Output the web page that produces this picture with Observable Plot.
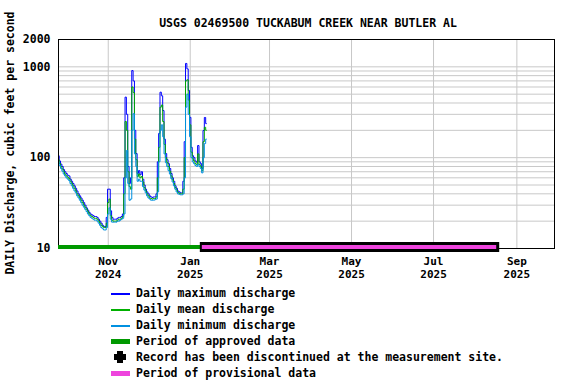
<!DOCTYPE html>
<html><head><meta charset="utf-8">
<script src="https://cdn.jsdelivr.net/npm/d3@7"></script>
<script src="https://cdn.jsdelivr.net/npm/@observablehq/plot@0.6"></script>
<style>
body{margin:0;background:#fff;}
#wrap{position:relative;width:576px;height:384px;font-family:"DejaVu Sans Mono",monospace;font-weight:bold;font-size:11.5px;color:#000;}
#title{position:absolute;top:16px;left:58px;width:500px;text-align:center;white-space:nowrap;}
#ylab{position:absolute;left:10px;top:143px;transform:translate(-50%,-50%) rotate(-90deg);white-space:nowrap;}
#chart{position:absolute;left:0;top:0;}
#legend{position:absolute;left:111px;top:285px;}
.row{position:relative;height:16px;white-space:nowrap;}
.row .sw{position:absolute;left:0;}
.row span{position:absolute;left:25px;top:0;line-height:16px;}
</style></head>
<body>
<div id="wrap">
  <div id="chart"></div>
  <div id="title"></div>
  <div id="ylab"></div>
  <div id="legend"></div>
</div>
<script>
const titleText = "USGS 02469500 TUCKABUM CREEK NEAR BUTLER AL";
const yLabel = "DAILY Discharge, cubic feet per second";
const startDate = "2024-09-25";
const dailyMax = [105,92,85,80,74,70,67,64,63,58,
  55,52,49,46,43,40,38,36,34,32,
  30,28,26.5,25,24,23.5,23,22.5,22.5,22,
  21,20,19,18,17.5,17.5,22,45,45,26,
  22,21,21,21,21.5,22,22,22.5,24,60,
  464,300,80,52,60,910,700,200,111,67,
  72,65,70,58,50,45,42,40,38,37,
  36.5,37,37,40,90,185,526,480,330,160,
  111,95,86,76,67,60,55,49,46,43,
  42,41,41,55,150,1090,950,550,278,130,
  105,100,92,89,136,90,86,76,199,277,
  237];
const dailyMean = [95,86,80,75,70,66,63,61,59,55,
  52,49,46,43,40,38,36,34,32,30,
  28.5,27,25.5,24,23,22.5,22,21.5,21.5,21,
  20,19,18,17.5,17,17,19,32,35,23,
  20.5,20,20,20,20.5,21,21,21.5,22.5,40,
  250,200,70,48,45,600,520,160,95,62,
  66,60,62,54,47,43,40,38,36,35.5,
  35,35.5,35.5,37,60,130,360,380,250,140,
  100,88,80,71,63,57,52,47,44,41.5,
  40.5,40,40,45,100,700,720,430,230,115,
  98,92,86,84,110,84,80,72,150,216,
  200];
const dailyMin = [90,82,76,71,66,63,60,58,56,52,
  49,46,43,41,38,36,34,32,30,28.5,
  27,25.5,24,23,22,21.5,21,20.5,20.5,20,
  19,18,17,16.5,16,16,17,24,28,21,
  19.5,19.5,19.5,19.5,20,20,20.5,21,21.5,24,
  60,120,52,34,35,200,305,110,80,55,
  58,55,55,48,44,41,38,36,35,34,
  34,34,34.5,35,42,90,200,230,170,110,
  88,80,72,66,59,54,49,45,42,40,
  39.5,39,39,40,60,360,500,300,170,100,
  90,86,82,80,85,80,76,68,100,143,
  160];
const seriesNames = ["Daily maximum discharge","Daily mean discharge","Daily minimum discharge"];
const seriesColors = ["#0000ff","#00a800","#0090e0"];
const xDomain = ["2024-09-25","2025-09-29"];
const xTicks = ["2024-11-01","2025-01-01","2025-03-01","2025-05-01","2025-07-01","2025-09-01"];
const yDomain = [10,2000];
const yTicks = [10,100,1000,2000];
const yGrid = [20,30,40,50,60,70,80,90,100,200,300,400,500,600,700,800,900,1000,2000];
const approvedPeriod = ["2024-09-25","2025-01-10"];
const provisionalPeriod = ["2025-01-10","2025-08-17"];
const approvedColor = "#009900";
const provisionalColor = "#ee44dd";
const legendItems = [
  {label:"Daily maximum discharge", kind:"line", color:"#0000ff"},
  {label:"Daily mean discharge", kind:"line", color:"#00b000"},
  {label:"Daily minimum discharge", kind:"line", color:"#0090e0"},
  {label:"Period of approved data", kind:"bar", color:"#009900"},
  {label:"Record has been discontinued at the measurement site.", kind:"cross", color:"#000000"},
  {label:"Period of provisional data", kind:"bar", color:"#ee44dd"}
];

const parse = s => new Date(s + "T00:00:00Z");
const seriesValues = [dailyMax, dailyMean, dailyMin];
const rows = seriesValues.flatMap((vals, k) => vals.map((v, i) => ({
  date: d3.utcDay.offset(parse(startDate), i), value: v, series: seriesNames[k]
})));
const approved = [{y: yDomain[0], x1: parse(approvedPeriod[0]), x2: parse(approvedPeriod[1])}];
const provisional = [{y: yDomain[0], x1: parse(provisionalPeriod[0]), x2: parse(provisionalPeriod[1])}];

const chart = Plot.plot({
  width: 576, height: 284,
  marginLeft: 58, marginRight: 22, marginTop: 39, marginBottom: 36,
  style: {fontFamily: "DejaVu Sans Mono, monospace", fontWeight: "bold", fontSize: "11.5px", color: "#000", background: "transparent"},
  x: {type: "utc", domain: xDomain.map(parse)},
  y: {type: "log", domain: yDomain},
  color: {domain: seriesNames, range: seriesColors},
  marks: [
    Plot.ruleY(yGrid, {stroke: "#c8c8c8", strokeOpacity: 1}),
    Plot.ruleX(xTicks.map(parse), {stroke: "#c8c8c8", strokeOpacity: 1}),
    Plot.line(rows, {x: "date", y: "value", z: "series", stroke: "series", strokeWidth: 1, curve: "step"}),
    Plot.frame({stroke: "#000"}),
    Plot.ruleY(approved, {y: "y", x1: "x1", x2: "x2", stroke: approvedColor, strokeWidth: 4, dy: -1.5}),
    Plot.ruleY(provisional, {y: "y", x1: "x1", x2: "x2", stroke: "#000", strokeWidth: 10, dy: -1.5, insetLeft: -2, insetRight: -3}),
    Plot.ruleY(provisional, {y: "y", x1: "x1", x2: "x2", stroke: provisionalColor, strokeWidth: 4, dy: -1.5}),
    Plot.axisX({ticks: xTicks.map(parse), tickFormat: d3.utcFormat("%b"), tickSize: 0, tickPadding: 9, fontSize: 11, label: null}),
    Plot.axisX({ticks: xTicks.map(parse), tickFormat: d3.utcFormat("%Y"), tickSize: 0, tickPadding: 21.5, fontSize: 11, label: null}),
    Plot.axisY({ticks: yTicks, tickFormat: d3.format("d"), tickSize: 0, tickPadding: 8, label: null})
  ]
});
document.getElementById("chart").appendChild(chart);
document.getElementById("title").textContent = titleText;
document.getElementById("ylab").textContent = yLabel;

const legend = document.getElementById("legend");
for (const item of legendItems) {
  const row = document.createElement("div");
  row.className = "row";
  let sw;
  if (item.kind === "line") sw = `<div class="sw" style="top:8px;width:19px;height:2px;background:${item.color}"></div>`;
  else if (item.kind === "bar") sw = `<div class="sw" style="top:6px;width:19px;height:5px;background:${item.color}"></div>`;
  else sw = `<div class="sw" style="top:2px;left:6px;width:6px;height:12px;background:#000"></div><div class="sw" style="top:5px;left:3px;width:12px;height:6px;background:#000"></div>`;
  row.innerHTML = sw + `<span>${item.label}</span>`;
  legend.appendChild(row);
}
</script>
</body></html>
